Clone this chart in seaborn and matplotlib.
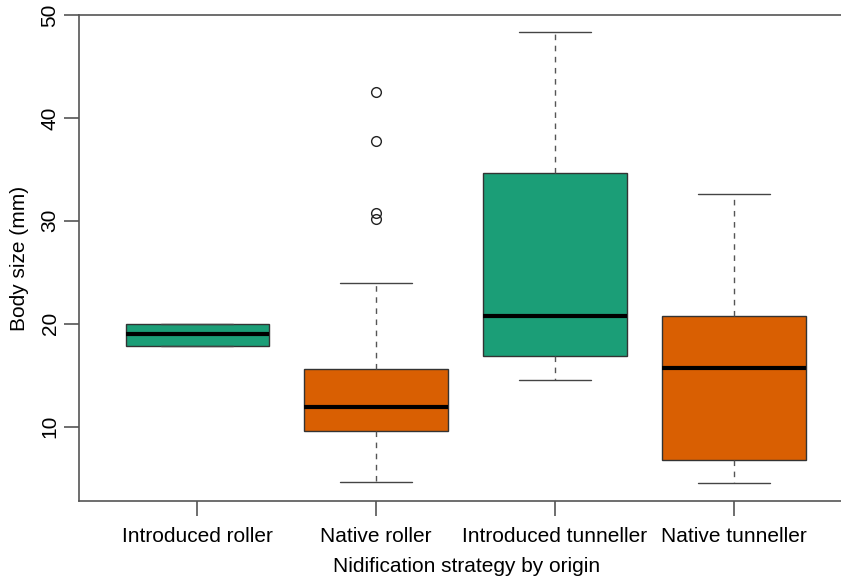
import pandas as pd
import seaborn as sns
import matplotlib.pyplot as plt

# Body sizes (mm) per group (quartiles, whiskers, outliers)
intro_roller = [17.8, 17.8, 19.0, 20.0, 20.0]
native_roller = [4.6, 6.0, 7.2, 8.1, 9.0, 9.6, 10.0, 10.5, 11.0, 11.5, 11.9,
                 12.4, 13.0, 13.8, 14.7, 15.6, 24.0, 30.2, 30.8, 37.8, 42.5]
intro_tunneller = [14.5, 16.9, 20.7, 34.6, 48.3]
native_tunneller = [4.5, 6.75, 15.7, 20.75, 32.6]

groups = ['Introduced roller', 'Native roller', 'Introduced tunneller', 'Native tunneller']
colors = ['#1B9E77', '#D95F02', '#1B9E77', '#D95F02']

df = pd.DataFrame({
    'group': ([groups[0]] * len(intro_roller) + [groups[1]] * len(native_roller)
              + [groups[2]] * len(intro_tunneller) + [groups[3]] * len(native_tunneller)),
    'size': intro_roller + native_roller + intro_tunneller + native_tunneller,
})

sns.set_style('white')
plt.rcParams['font.family'] = ['Liberation Sans', 'DejaVu Sans']
plt.rcParams['text.color'] = 'black'
plt.rcParams['axes.labelcolor'] = 'black'
plt.rcParams['xtick.labelcolor'] = 'black'
plt.rcParams['ytick.labelcolor'] = 'black'

fig = plt.figure(figsize=(8.41, 5.81), dpi=100)
ax = fig.add_axes([79 / 841, 1 - 501 / 581, 1 - 79 / 841, (501 - 15) / 581])

sns.boxplot(data=df, x='group', y='size', hue='group', order=groups,
            palette=dict(zip(groups, colors)), legend=False, width=0.8,
            whis=1.5, linewidth=1, linecolor='#333333',
            medianprops=dict(color='black', linewidth=3),
            whiskerprops=dict(linestyle=(0, (4, 4)), color='#555555'),
            capprops=dict(color='#444444'),
            flierprops=dict(marker='o', markerfacecolor='none',
                            markeredgecolor='#222222', markersize=7,
                            markeredgewidth=1),
            saturation=1, ax=ax)

ax.set_xlim(-0.66, 3.598)
ax.set_ylim(2.77, 50)
ax.set_yticks([10, 20, 30, 40, 50])

for side in ['left', 'top', 'bottom']:
    ax.spines[side].set_visible(True)
    ax.spines[side].set_color('#555555')
    ax.spines[side].set_linewidth(1.2)
ax.spines['right'].set_visible(False)

ax.tick_params(axis='both', direction='out', length=11, width=1.2,
               color='#555555', labelsize=15)
ax.tick_params(axis='x', bottom=True, pad=8)
ax.tick_params(axis='y', left=True, pad=3)
for lbl in ax.get_yticklabels():
    lbl.set_rotation(90)
    lbl.set_va('center')

ax.set_xlabel('Nidification strategy by origin', fontsize=15)
ax.set_ylabel('Body size (mm)', fontsize=15)
ax.xaxis.set_label_coords(0.508, (501 - 566) / 486)
ax.xaxis.label.set_va('center')
ax.yaxis.set_label_coords((20 - 79) / 762, 0.5)
ax.yaxis.label.set_va('center')

fig.savefig('out.png', dpi=100)
